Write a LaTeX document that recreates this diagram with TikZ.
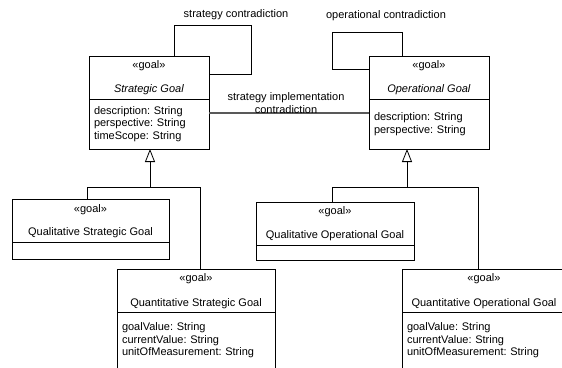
\documentclass[tikz,border=0pt]{standalone}
\usepackage{fontspec}
\setmainfont{Liberation Sans}
\usetikzlibrary{arrows.meta,positioning}
\frenchspacing

\begin{document}
\begin{tikzpicture}[
    x=1pt, y=-1pt,
    font=\fontsize{11}{12.5}\selectfont,
    head/.style={rectangle, draw, line width=0.8pt, outer sep=0pt, inner sep=0pt, minimum height=43pt, minimum width=#1, align=center},
    attrs/.style={rectangle, draw, line width=0.8pt, outer sep=0pt, inner xsep=5pt, inner ysep=0pt, text width=#1, align=left},
    line/.style={draw, line width=0.8pt},
    gen/.style={line, -{Triangle[open, width=10pt, length=13pt]}},
    assoc/.style={draw, gray!70!black, line width=1.2pt}
]
    \useasboundingbox (0,0) rectangle (562,367);
    \clip (0,0) rectangle (562,367);

    % top level goals
    \node[head=120] (sgoal) at (149,77.5) {«goal»\\[11pt]\textit{Strategic Goal}};
    \node[attrs=110, minimum height=50pt, below=0pt of sgoal] (sgoalattr) {description: String\\perspective: String\\timeScope: String};
    \node[head=120] (ogoal) at (429,77.5) {«goal»\\[11pt]\textit{Operational Goal}};
    \node[attrs=110, minimum height=50pt, below=0pt of ogoal] (ogoalattr) {description: String\\perspective: String};

    % specialised goals
    \node[head=157] (qsgoal) at (90.5,221) {«goal»\\[11pt]Qualitative Strategic Goal};
    \node[attrs=147, minimum height=17pt, below=0pt of qsgoal] (qsgoalattr) {};
    \node[head=158] (nsgoal) at (196,291) {«goal»\\[12pt]Quantitative Strategic Goal};
    \node[attrs=148, minimum height=56pt, below=0pt of nsgoal] (nsgoalattr) {goalValue: String\\currentValue: String\\unitOfMeasurement: String};

    \node[head=158] (qogoal) at (335,223.5) {«goal»\\[11pt]Qualitative Operational Goal};
    \node[attrs=148, minimum height=15pt, below=0pt of qogoal] (qogoalattr) {};
    \node[head=164] (nogoal) at (484,291) {«goal»\\[12pt]Quantitative Operational Goal};
    \node[attrs=154, minimum height=56pt, below=0pt of nogoal] (nogoalattr) {goalValue: String\\currentValue: String\\unitOfMeasurement: String};

    % generalisations
    \coordinate (sjoin) at (150,187);
    \coordinate (ojoin) at (407,187);
    \draw[gen] (sjoin) -- (sgoalattr.south -| sjoin);
    \draw[line] ([xshift=-3.5pt]qsgoal.north) |- (sjoin);
    \draw[line] ([xshift=4pt]nsgoal.north) |- (sjoin);
    \draw[gen] (ojoin) -- (ogoalattr.south -| ojoin);
    \draw[line] ([xshift=-3pt]qogoal.north) |- (ojoin);
    \draw[line] ([xshift=-6pt]nogoal.north) |- (ojoin);

    % contradictions
    \draw[line] ([xshift=25pt]sgoal.north) -- ++(0,-31) -- ++(77,0) |- ([yshift=-18pt]sgoal.north east);
    \node (sloop) at (236,15) {strategy contradiction};
    \draw[line] ([xshift=-27pt]ogoal.north) -- ++(0,-24) -- ++(-70,0) |- ([yshift=-13pt]ogoal.north west);
    \node (oloop) at (386,16) {operational contradiction};
    \draw[assoc] ([yshift=-14pt]sgoalattr.north east) -- ([yshift=-14pt]ogoalattr.north west);
    \node[align=center] (simpl) at (286,103) {strategy implementation\\contradiction};
\end{tikzpicture}
\end{document}
